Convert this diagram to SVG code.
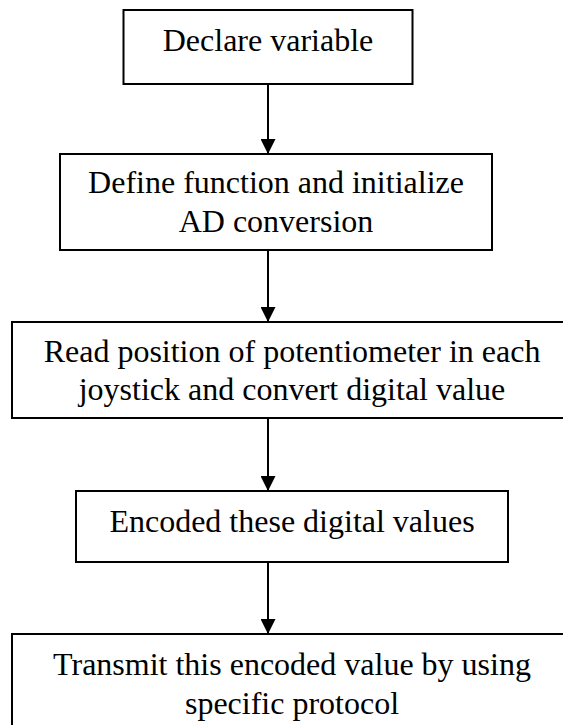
<svg xmlns="http://www.w3.org/2000/svg" width="563" height="725" viewBox="0 0 563 725">
<style>
.box{fill:#fff;stroke:#000;stroke-width:2}
.lbl{font-family:"Liberation Serif","Times New Roman",serif;font-size:32px;fill:#000;text-anchor:middle}
.conn{stroke:#000;stroke-width:2;fill:none}
</style>
<defs>
<marker id="ah" markerUnits="userSpaceOnUse" markerWidth="15" markerHeight="15" refX="15" refY="7.5" orient="auto">
<path d="M0,0 L15,7.5 L0,15 Z" fill="#000"/>
</marker>
</defs>
<rect width="563" height="725" fill="#fff"/>
<g id="connectors">
<line class="conn" x1="268" y1="84" x2="268" y2="154" marker-end="url(#ah)"/>
<line class="conn" x1="268" y1="250" x2="268" y2="322" marker-end="url(#ah)"/>
<line class="conn" x1="268" y1="418" x2="268" y2="491" marker-end="url(#ah)"/>
<line class="conn" x1="268" y1="562" x2="268" y2="634" marker-end="url(#ah)"/>
</g>
<g id="n1">
<rect class="box" x="123.5" y="10" width="289" height="74"/>
<text class="lbl" x="268" y="51">Declare variable</text>
</g>
<g id="n2">
<rect class="box" x="60" y="154" width="432" height="96"/>
<text class="lbl" x="276" y="193.3">Define function and initialize</text>
<text class="lbl" x="276" y="231.7">AD conversion</text>
</g>
<g id="n3">
<rect class="box" x="12" y="322" width="560" height="96"/>
<text class="lbl" x="292" y="361.7">Read position of potentiometer in each</text>
<text class="lbl" x="292" y="400.2">joystick and convert digital value</text>
</g>
<g id="n4">
<rect class="box" x="76" y="491" width="432" height="71"/>
<text class="lbl" x="292" y="531.7">Encoded these digital values</text>
</g>
<g id="n5">
<rect class="box" x="12" y="634" width="560" height="110"/>
<text class="lbl" x="292" y="675">Transmit this encoded value by using</text>
<text class="lbl" x="292" y="713.5">specific protocol</text>
</g>
</svg>
